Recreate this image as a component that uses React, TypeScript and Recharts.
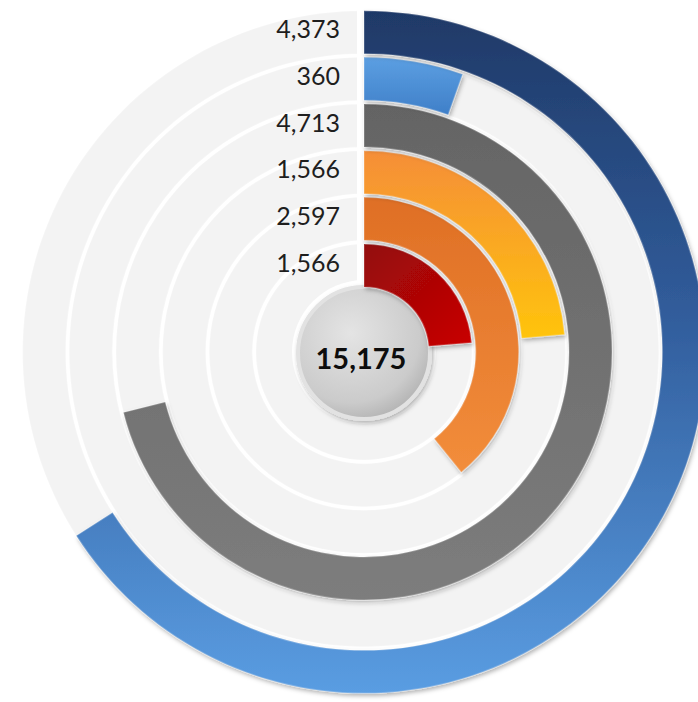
import {
  Cell,
  PolarAngleAxis,
  PolarRadiusAxis,
  RadialBar,
  RadialBarChart,
} from 'recharts';

// rings listed from the centre outwards
const rings = ['ring1', 'ring2', 'ring3', 'ring4', 'ring5', 'ring6'];
const values = [1566, 2597, 1566, 4713, 360, 4373];
const fills = ['url(#gRed)', 'url(#gOrange)', 'url(#gGold)', 'url(#gGrey)', 'url(#gSky)', 'url(#gNavy)'];
const angleMax = 6630;

const data = rings.map((id, i) => ({ id, value: values[i] }));
const total = values.reduce((sum, v) => sum + v, 0);

const W = 698;
const H = 702;
const CX = 364;
const CY = 352;

function RingTick({ x, y, payload }: any) {
  const i = rings.indexOf(payload.value);
  if (i < 0) return null;
  return (
    <text
      x={x - 24}
      y={y - 4}
      textAnchor="end"
      dominantBaseline="central"
      fontSize={25}
      fill="#1e1e1e"
      fontFamily="Lato, sans-serif"
    >
      {values[i].toLocaleString('en-US')}
    </text>
  );
}

export default function App() {
  return (
    <div style={{ position: 'fixed', left: 0, top: 0, width: W, height: H, overflow: 'hidden', background: '#fff' }}>
      <RadialBarChart
        width={W}
        height={H}
        cx={CX}
        cy={CY}
        innerRadius={63}
        outerRadius={343}
        startAngle={90}
        endAngle={-270}
        barSize={43}
        data={data}
        margin={{ top: 0, right: 0, bottom: 0, left: 0 }}
      >
        <defs>
          <linearGradient id="gNavy" x1="0" y1="0" x2="0" y2="1">
            <stop offset="0%" stopColor="#1f3967" />
            <stop offset="45%" stopColor="#315d9c" />
            <stop offset="100%" stopColor="#5a9de2" />
          </linearGradient>
          <linearGradient id="gSky" x1="0" y1="0" x2="0" y2="1">
            <stop offset="0%" stopColor="#5c9fe2" />
            <stop offset="100%" stopColor="#3f7fc8" />
          </linearGradient>
          <linearGradient id="gGrey" x1="0" y1="0" x2="0" y2="1">
            <stop offset="0%" stopColor="#646464" />
            <stop offset="100%" stopColor="#7d7d7d" />
          </linearGradient>
          <linearGradient id="gGold" x1="0" y1="0" x2="0" y2="1">
            <stop offset="0%" stopColor="#f58e38" />
            <stop offset="100%" stopColor="#ffc40c" />
          </linearGradient>
          <linearGradient id="gOrange" x1="0" y1="0" x2="0" y2="1">
            <stop offset="0%" stopColor="#df6f25" />
            <stop offset="100%" stopColor="#f28d3b" />
          </linearGradient>
          <linearGradient id="gRed" x1="0" y1="0" x2="1" y2="1">
            <stop offset="0%" stopColor="#930909" />
            <stop offset="100%" stopColor="#c90303" />
          </linearGradient>
          <radialGradient id="gDisc" cx="0.4" cy="0.35" r="0.75">
            <stop offset="0%" stopColor="#e4e4e4" />
            <stop offset="70%" stopColor="#cbcbcb" />
            <stop offset="100%" stopColor="#a9a9a9" />
          </radialGradient>
          <filter id="shade" x="-20%" y="-20%" width="140%" height="140%">
            <feDropShadow dx="1.5" dy="2.5" stdDeviation="2" floodColor="#000" floodOpacity="0.3" />
          </filter>
        </defs>
        <PolarAngleAxis type="number" domain={[0, angleMax]} tick={false} axisLine={false} />
        <PolarRadiusAxis
          type="category"
          dataKey="id"
          angle={90}
          axisLine={false}
          tickLine={false}
          tick={<RingTick />}
        />
        <RadialBar
          dataKey="value"
          background={{ fill: '#f3f3f3' }}
          isAnimationActive={false}
          filter="url(#shade)"
        >
          {data.map((entry, index) => (
            <Cell key={entry.id} fill={fills[index]} stroke="rgba(255,255,255,0.22)" strokeWidth={1.5} />
          ))}
        </RadialBar>
        <rect x={CX - 7} y={0} width={7} height={CY} fill="#ffffff" />
        <circle cx={CX} cy={CY} r={72} fill="#ffffff" />
        <circle cx={CX} cy={CY + 1} r={66} fill="url(#gDisc)" stroke="#e2e2e2" strokeWidth={4} filter="url(#shade)" />
        <text
          x={CX - 3}
          y={CY + 5}
          textAnchor="middle"
          dominantBaseline="central"
          fontSize={29}
          fontWeight={700}
          fill="#0d0d0d"
          fontFamily="Lato, sans-serif"
        >
          {total.toLocaleString('en-US')}
        </text>
      </RadialBarChart>
    </div>
  );
}
